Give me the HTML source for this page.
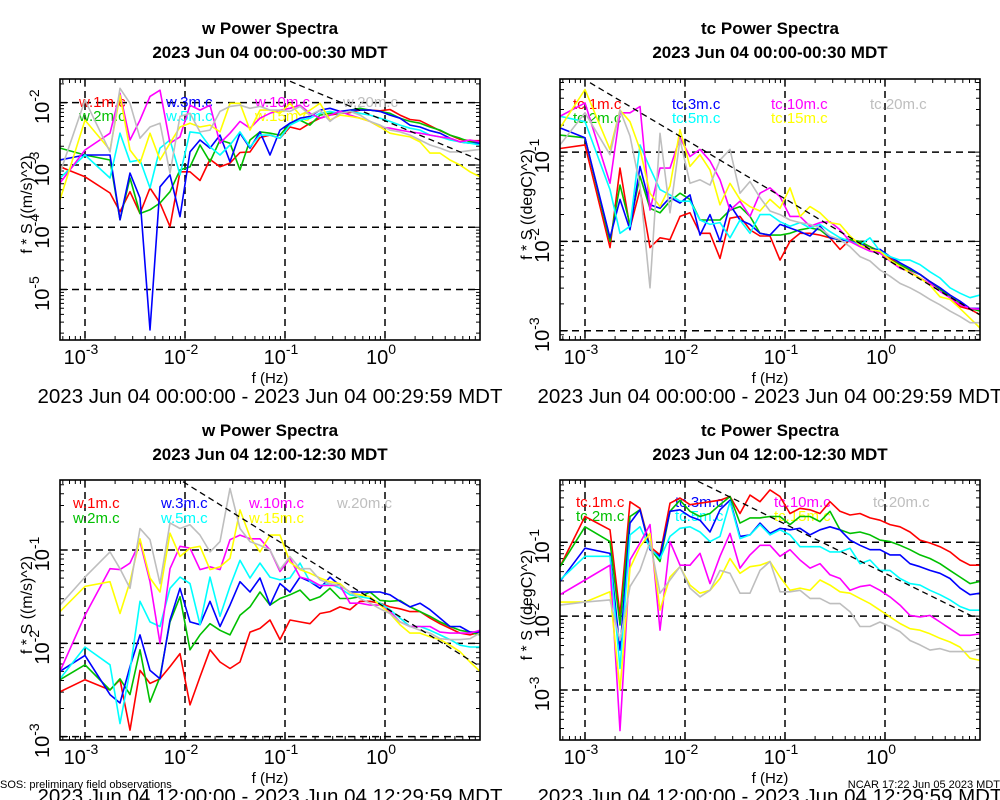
<!DOCTYPE html>
<html><head><meta charset="utf-8"><style>
html,body{margin:0;padding:0;background:#fff;}
svg{display:block;font-family:"Liberation Sans",Arial,sans-serif;}
</style></head>
<body>
<svg id="chart" width="1000" height="800" viewBox="0 0 1000 800" xmlns="http://www.w3.org/2000/svg">
<rect x="0" y="0" width="1000" height="800" fill="#fff"/>
<text x="0" y="788" font-size="11">SOS: preliminary field observations</text>
<text x="1000" y="788" font-size="11" text-anchor="end">NCAR 17:22 Jun 05 2023 MDT</text>
</svg>
<script>
// frequency grid (log10 Hz)
const logFreq = [-3.25,-3.0,-2.75,-2.65,-2.55,-2.45,-2.35,-2.25,-2.15,-2.05,-1.95,-1.85,-1.75,-1.65,-1.55,-1.45,-1.35,-1.25,-1.15,-1.05,-0.95,-0.85,-0.75,-0.65,-0.55,-0.45,-0.35,-0.25,-0.15,-0.05,0.05,0.15,0.25,0.35,0.45,0.55,0.65,0.75,0.85,0.95];
const seriesNames = ['1m','2m','3m','5m','10m','15m','20m'];
// Panel 1: w, 00:00-00:30 (log10 of f*S)
const p1_1m = [-3.03,-3.19,-3.45,-3.75,-3.43,-3.78,-3.37,-3.61,-3.99,-3.11,-3.11,-3.25,-2.91,-3.03,-2.97,-2.80,-2.79,-2.56,-2.52,-2.57,-2.39,-2.43,-2.33,-2.25,-2.20,-2.17,-2.16,-2.12,-2.12,-2.13,-2.11,-2.20,-2.27,-2.29,-2.37,-2.45,-2.52,-2.59,-2.61,-2.61];
const p1_2m = [-2.73,-2.84,-2.92,-3.88,-3.21,-3.78,-3.72,-3.61,-3.43,-3.08,-3.03,-2.68,-2.95,-2.60,-2.65,-3.08,-2.60,-2.47,-2.49,-2.52,-2.33,-2.28,-2.36,-2.20,-2.17,-2.17,-2.12,-2.09,-2.12,-2.14,-2.17,-2.25,-2.30,-2.33,-2.39,-2.44,-2.52,-2.57,-2.63,-2.64];
const p1_3m = [-2.92,-2.84,-2.84,-3.88,-3.13,-3.53,-5.65,-3.35,-3.16,-3.83,-2.79,-2.60,-2.73,-2.52,-2.95,-2.49,-2.73,-2.47,-2.84,-2.44,-2.33,-2.25,-2.22,-2.12,-2.09,-2.14,-2.12,-2.12,-2.12,-2.14,-2.20,-2.25,-2.36,-2.39,-2.45,-2.49,-2.57,-2.63,-2.65,-2.65];
const p1_5m = [-3.21,-2.84,-3.21,-2.49,-2.95,-2.92,-3.37,-2.73,-2.60,-3.16,-2.47,-2.49,-2.71,-2.84,-2.68,-2.47,-2.71,-2.52,-2.52,-2.57,-2.36,-2.28,-2.25,-2.17,-2.14,-2.17,-2.14,-2.17,-2.20,-2.25,-2.30,-2.36,-2.41,-2.44,-2.52,-2.55,-2.60,-2.63,-2.65,-2.68];
const p1_10m = [-3.29,-2.76,-2.49,-1.85,-2.60,-2.28,-1.90,-1.80,-2.65,-2.55,-2.04,-2.12,-2.04,-2.65,-2.49,-2.30,-2.41,-2.25,-2.17,-2.12,-2.09,-2.04,-2.17,-2.25,-2.20,-2.14,-2.20,-2.25,-2.30,-2.39,-2.41,-2.44,-2.47,-2.49,-2.52,-2.55,-2.57,-2.63,-2.60,-2.63];
const p1_15m = [-3.56,-2.28,-2.76,-1.88,-2.76,-2.97,-2.49,-2.92,-2.65,-2.39,-2.33,-2.39,-2.36,-2.47,-2.01,-2.01,-2.44,-2.12,-2.12,-2.17,-2.01,-2.20,-2.12,-2.01,-2.28,-2.20,-2.22,-2.25,-2.30,-2.39,-2.49,-2.52,-2.55,-2.63,-2.81,-2.81,-2.92,-3.00,-3.11,-3.19];
const p1_20m = [-3.13,-1.96,-2.79,-1.77,-2.01,-2.57,-2.39,-2.33,-3.13,-2.22,-2.17,-2.47,-2.44,-2.14,-2.06,-2.04,-2.09,-2.06,-2.12,-2.12,-2.14,-2.06,-2.20,-2.12,-2.30,-2.17,-2.14,-2.20,-2.30,-2.36,-2.44,-2.47,-2.52,-2.60,-2.68,-2.73,-2.79,-2.79,-2.77,-2.75];
// Panel 2: tc, 00:00-00:30
const p2_1m = [-0.96,-0.92,-2.07,-1.18,-1.85,-1.42,-2.07,-1.96,-1.98,-1.72,-1.68,-1.91,-1.91,-2.19,-1.74,-1.72,-1.87,-1.94,-1.94,-2.21,-2.00,-1.91,-1.91,-1.93,-1.96,-2.09,-1.98,-2.02,-2.06,-2.13,-2.19,-2.26,-2.32,-2.37,-2.45,-2.52,-2.62,-2.73,-2.76,-2.82];
const p2_2m = [-0.81,-0.84,-2.00,-1.37,-1.81,-1.27,-1.63,-1.68,-1.55,-1.46,-1.53,-1.76,-1.76,-1.76,-1.65,-1.61,-1.72,-1.91,-1.93,-1.93,-1.91,-1.87,-1.85,-1.87,-1.96,-1.98,-1.98,-2.00,-2.06,-2.11,-2.21,-2.26,-2.32,-2.37,-2.45,-2.54,-2.62,-2.69,-2.75,-2.78];
const p2_3m = [-0.73,-0.84,-1.96,-1.53,-1.87,-1.16,-1.59,-1.63,-1.51,-1.57,-1.48,-1.93,-1.70,-2.00,-1.59,-1.76,-1.81,-1.91,-1.93,-1.81,-1.85,-1.89,-1.94,-1.83,-1.96,-1.98,-2.00,-2.02,-2.09,-2.09,-2.17,-2.24,-2.30,-2.37,-2.45,-2.52,-2.60,-2.67,-2.75,-2.75];
const p2_5m = [-0.60,-0.66,-1.42,-1.91,-1.83,-0.92,-1.18,-1.42,-1.48,-1.55,-1.55,-1.76,-1.81,-1.79,-1.96,-1.76,-1.91,-1.70,-1.70,-1.78,-1.83,-1.79,-1.85,-1.81,-1.89,-1.96,-2.00,-2.04,-1.96,-2.11,-2.17,-2.21,-2.21,-2.26,-2.34,-2.41,-2.52,-2.58,-2.63,-2.60];
const p2_10m = [-0.60,-0.45,-1.35,-0.56,-0.56,-0.49,-1.65,-1.18,-1.18,-0.84,-1.05,-0.97,-1.10,-1.31,-1.65,-1.55,-1.72,-1.46,-1.40,-1.50,-1.72,-1.72,-1.83,-1.79,-1.78,-1.87,-2.00,-2.06,-2.11,-2.13,-2.22,-2.30,-2.34,-2.41,-2.47,-2.56,-2.63,-2.71,-2.75,-2.76];
const p2_15m = [-0.73,-0.30,-0.97,-0.53,-0.66,-0.97,-1.46,-1.61,-1.38,-0.75,-1.16,-1.03,-1.20,-1.59,-1.35,-1.53,-1.61,-1.66,-1.53,-1.63,-1.40,-1.72,-1.61,-1.68,-1.79,-1.81,-1.94,-2.04,-2.09,-2.11,-2.21,-2.28,-2.35,-2.41,-2.49,-2.62,-2.65,-2.75,-2.86,-2.97];
const p2_20m = [-0.92,-0.56,-1.03,-0.53,-0.82,-1.38,-2.52,-0.79,-1.68,-0.86,-1.35,-1.31,-1.37,-1.09,-0.97,-1.46,-1.33,-1.51,-1.66,-1.70,-1.76,-1.79,-1.81,-1.85,-1.94,-1.98,-2.06,-2.17,-2.22,-2.32,-2.39,-2.47,-2.52,-2.58,-2.65,-2.71,-2.78,-2.84,-2.91,-2.91];
// Panel 3: w, 12:00-12:30
const p3_1m = [-2.52,-2.39,-2.50,-2.39,-2.93,-2.29,-2.43,-2.38,-2.25,-2.11,-2.66,-2.36,-2.07,-2.20,-2.27,-2.20,-1.88,-1.84,-1.75,-1.96,-1.75,-1.77,-1.79,-1.68,-1.66,-1.61,-1.64,-1.55,-1.55,-1.57,-1.61,-1.63,-1.66,-1.66,-1.73,-1.79,-1.84,-1.89,-1.91,-1.88];
const p3_2m = [-2.39,-2.23,-2.50,-2.38,-2.55,-2.07,-2.63,-2.36,-1.77,-1.50,-2.07,-1.91,-1.79,-1.86,-1.91,-1.70,-1.61,-1.45,-1.59,-1.52,-1.48,-1.43,-1.54,-1.50,-1.41,-1.52,-1.52,-1.50,-1.45,-1.54,-1.55,-1.54,-1.61,-1.66,-1.71,-1.77,-1.82,-1.86,-1.88,-1.91];
const p3_3m = [-2.30,-2.13,-2.55,-2.64,-2.25,-1.91,-2.29,-2.38,-1.75,-1.41,-1.77,-1.80,-1.55,-1.82,-1.59,-1.34,-1.45,-1.30,-1.59,-1.36,-1.45,-1.29,-1.34,-1.41,-1.29,-1.38,-1.45,-1.45,-1.45,-1.45,-1.48,-1.55,-1.61,-1.57,-1.64,-1.73,-1.82,-1.82,-1.88,-1.88];
const p3_5m = [-2.38,-2.04,-2.23,-2.86,-2.29,-1.55,-1.77,-1.82,-1.41,-1.29,-1.36,-1.80,-1.29,-1.71,-1.39,-1.11,-1.30,-1.14,-1.29,-1.32,-1.30,-1.14,-1.34,-1.38,-1.36,-1.41,-1.48,-1.50,-1.52,-1.57,-1.64,-1.73,-1.82,-1.82,-1.86,-1.91,-1.96,-2.02,-2.04,-2.04];
const p3_10m = [-2.30,-1.70,-1.20,-1.21,-1.14,-0.91,-1.34,-2.00,-1.20,-0.96,-0.98,-1.21,-1.18,-1.21,-0.89,-0.84,-0.88,-0.88,-1.00,-1.23,-1.09,-1.29,-1.32,-1.38,-1.38,-1.38,-1.57,-1.57,-1.59,-1.59,-1.66,-1.77,-1.82,-1.82,-1.82,-1.88,-1.89,-1.89,-1.89,-1.86];
const p3_15m = [-1.66,-1.39,-1.34,-1.68,-1.34,-0.88,-1.30,-1.45,-0.82,-1.07,-0.98,-0.96,-1.21,-1.18,-1.09,-0.57,-0.86,-1.02,-0.84,-0.84,-1.13,-1.21,-1.25,-1.30,-1.34,-1.36,-1.46,-1.48,-1.50,-1.59,-1.68,-1.80,-1.89,-1.89,-1.93,-1.96,-2.02,-2.09,-2.20,-2.30];
const p3_20m = [-1.59,-1.29,-1.02,-1.20,-1.41,-0.77,-0.89,-1.36,-0.71,-0.77,-0.73,-0.84,-1.02,-0.91,-0.34,-0.77,-0.91,-0.95,-1.00,-1.21,-1.07,-1.20,-1.20,-1.32,-1.36,-1.38,-1.45,-1.52,-1.57,-1.63,-1.68,-1.77,-1.82,-1.86,-1.89,-1.95,-1.96,-1.96,-1.95,-1.89];
// Panel 4: tc, 12:00-12:30
const p4_1m = [-1.33,-0.65,-0.83,-1.99,-0.45,-0.54,-1.06,-1.17,-0.47,-0.40,-0.49,-0.47,-0.45,-0.43,-0.38,-0.61,-0.36,-0.45,-0.29,-0.38,-0.61,-0.54,-0.56,-0.61,-0.45,-0.58,-0.63,-0.61,-0.67,-0.70,-0.76,-0.79,-0.86,-0.97,-1.01,-1.06,-1.13,-1.24,-1.31,-1.31];
const p4_2m = [-1.33,-0.79,-0.99,-2.12,-0.65,-0.56,-1.08,-1.26,-0.58,-0.43,-0.58,-0.65,-0.61,-0.49,-0.38,-0.74,-0.67,-0.67,-0.65,-0.65,-0.76,-0.65,-0.65,-0.72,-0.58,-0.83,-0.88,-0.86,-0.90,-0.97,-0.99,-1.04,-1.10,-1.17,-1.22,-1.29,-1.38,-1.47,-1.56,-1.53];
const p4_3m = [-1.53,-1.08,-1.15,-2.46,-0.74,-0.56,-1.10,-1.19,-0.58,-0.56,-0.65,-0.70,-0.86,-0.56,-0.43,-0.92,-0.90,-0.74,-0.88,-0.81,-0.83,-0.81,-0.90,-0.83,-0.79,-0.83,-0.97,-1.04,-1.10,-1.10,-1.17,-1.17,-1.29,-1.33,-1.38,-1.42,-1.49,-1.62,-1.71,-1.69];
const p4_5m = [-1.51,-1.19,-1.19,-2.71,-0.90,-0.79,-1.08,-1.22,-0.92,-0.81,-0.79,-0.86,-0.99,-0.92,-0.45,-0.95,-0.90,-0.76,-0.90,-0.83,-0.90,-1.06,-1.06,-1.06,-1.13,-1.13,-1.08,-1.29,-1.24,-1.38,-1.38,-1.49,-1.56,-1.58,-1.65,-1.71,-1.78,-1.87,-1.92,-1.92];
const p4_10m = [-1.71,-1.51,-1.31,-3.55,-1.24,-1.01,-0.76,-2.19,-0.99,-1.31,-1.31,-1.15,-1.56,-1.19,-0.88,-1.35,-1.17,-1.04,-1.04,-1.19,-1.10,-1.24,-1.35,-1.29,-1.44,-1.49,-1.65,-1.60,-1.58,-1.65,-1.74,-1.85,-1.99,-2.01,-1.99,-2.08,-2.17,-2.26,-2.26,-2.24];
const p4_15m = [-1.81,-1.81,-1.67,-3.00,-1.35,-1.06,-0.88,-1.92,-1.47,-1.33,-1.58,-1.69,-1.65,-1.49,-1.22,-1.42,-1.33,-1.31,-1.26,-1.47,-1.65,-1.62,-1.65,-1.51,-1.58,-1.67,-1.69,-1.76,-1.83,-1.92,-2.01,-2.10,-2.17,-2.19,-2.24,-2.30,-2.35,-2.42,-2.57,-2.60];
const p4_20m = [-1.85,-1.81,-1.78,-2.33,-1.60,-1.38,-0.99,-1.69,-1.51,-1.33,-1.62,-1.74,-1.65,-1.38,-1.42,-1.69,-1.69,-1.38,-1.26,-1.67,-1.67,-1.65,-1.76,-1.76,-1.83,-1.83,-1.94,-2.14,-2.14,-2.08,-2.14,-2.21,-2.33,-2.39,-2.46,-2.44,-2.48,-2.48,-2.48,-2.44];
// reference -2/3 slope lines: [logf start, logf end, intercept]
const refLines = [[-0.95,0.95,-2.29],[-2.95,0.95,-2.19],[-2.02,0.95,-1.615],[-1.87,0.95,-1.42]];
const xTicks = [-3,-2,-1,0];

const colors = ['#ff0000','#00c000','#0000ff','#00ffff','#ff00ff','#ffff00','#bebebe'];
const NS = 'http://www.w3.org/2000/svg';
const svg = document.getElementById('chart');
function mk(tag, attrs, parent){ const e=document.createElementNS(NS,tag); for(const k in attrs) e.setAttribute(k,attrs[k]); (parent||svg).appendChild(e); return e; }

const panels = [
 {x0:60,x1:480,y0:79,y1:340,ymin:-5.81,ymax:-1.62,yt:[-2,-3,-4,-5],data:[p1_1m,p1_2m,p1_3m,p1_5m,p1_10m,p1_15m,p1_20m],pre:'w',ylab:'f * S ((m/s)^2)',t1:'w Power Spectra',t2:'2023 Jun 04 00:00-00:30 MDT',range:'2023 Jun 04 00:00:00 - 2023 Jun 04 00:29:59 MDT',lx:[79,166,255,343],ly:[102,116],cx:270,ty:34},
 {x0:560,x1:980,y0:79,y1:340,ymin:-3.104,ymax:-0.182,yt:[-1,-2,-3],data:[p2_1m,p2_2m,p2_3m,p2_5m,p2_10m,p2_15m,p2_20m],pre:'tc',ylab:'f * S ((degC)^2)',t1:'tc Power Spectra',t2:'2023 Jun 04 00:00-00:30 MDT',range:'2023 Jun 04 00:00:00 - 2023 Jun 04 00:29:59 MDT',lx:[573,672,771,870],ly:[104,118],cx:770,ty:34},
 {x0:60,x1:480,y0:480,y1:740,ymin:-3.036,ymax:-0.25,yt:[-1,-2,-3],data:[p3_1m,p3_2m,p3_3m,p3_5m,p3_10m,p3_15m,p3_20m],pre:'w',ylab:'f * S ((m/s)^2)',t1:'w Power Spectra',t2:'2023 Jun 04 12:00-12:30 MDT',range:'2023 Jun 04 12:00:00 - 2023 Jun 04 12:29:59 MDT',lx:[73,161,249,337],ly:[503,518],cx:270,ty:436},
 {x0:560,x1:980,y0:480,y1:740,ymin:-3.678,ymax:-0.156,yt:[-1,-2,-3],data:[p4_1m,p4_2m,p4_3m,p4_5m,p4_10m,p4_15m,p4_20m],pre:'tc',ylab:'f * S ((degC)^2)',t1:'tc Power Spectra',t2:'2023 Jun 04 12:00-12:30 MDT',range:'2023 Jun 04 12:00:00 - 2023 Jun 04 12:29:59 MDT',lx:[576,675,774,873],ly:[502,516],cx:770,ty:436}
];
const XMIN=-3.25, XMAX=0.95;

panels.forEach((p,pi)=>{
  const xs = v => p.x0 + (v-XMIN)/(XMAX-XMIN)*(p.x1-p.x0);
  const ys = v => p.y1 - (v-p.ymin)/(p.ymax-p.ymin)*(p.y1-p.y0);
  const g = mk('g',{});
  
  
  const cid='clip'+pi;
  const cp = mk('clipPath',{id:cid},g); mk('rect',{x:p.x0,y:p.y0,width:p.x1-p.x0,height:p.y1-p.y0},cp);
  const t1 = mk('text',{x:p.cx,y:p.ty,'text-anchor':'middle','font-size':17,'font-weight':'bold'},g); t1.textContent=p.t1;
   
  const t2 = mk('text',{x:p.cx,y:p.ty+24,'text-anchor':'middle','font-size':17,'font-weight':'bold'},g); t2.textContent=p.t2;
   
  xTicks.forEach(t=>{ const l=mk('line',{x1:xs(t),x2:xs(t),y1:p.y0,y2:p.y1,stroke:'#000','stroke-width':1.5,'stroke-dasharray':'7,5'},g);
      });
  p.yt.forEach(t=>{ const l=mk('line',{x1:p.x0,x2:p.x1,y1:ys(t),y2:ys(t),stroke:'#000','stroke-width':1.5,'stroke-dasharray':'7,5'},g);
      });
  let d='';
  for(let dec=-4; dec<=1; dec++){ for(let m=1;m<=9;m++){ const v=dec+Math.log10(m); if(v<XMIN||v>XMAX) continue; const L=m===1?8:4; const x=xs(v); d+=`M${x},${p.y1}v${-L}M${x},${p.y0}v${L}`; } }
  for(let dec=-7; dec<=0; dec++){ for(let m=1;m<=9;m++){ const v=dec+Math.log10(m); if(v<p.ymin||v>p.ymax) continue; const L=m===1?8:4; const y=ys(v); d+=`M${p.x0},${y}h${L}M${p.x1},${y}h${-L}`; } }
  const tk=mk('path',{d:d,stroke:'#000','stroke-width':1,fill:'none'},g);
   
  const order=[[0,0],[0,1],[1,0],[1,1],[2,0],[2,1],[3,0]];
  seriesNames.forEach((n,i)=>{ const [c,r]=order[i]; const lt=mk('text',{x:p.lx[c],y:p.ly[r]+5,'font-size':15,fill:colors[i]},g); lt.textContent=p.pre+'.'+n+'.c';
      });
  const sg = mk('g',{'clip-path':`url(#${cid})`},g);
  p.data.forEach((arr,i)=>{ const pts=arr.map((v,k)=>xs(logFreq[k]).toFixed(1)+','+ys(v).toFixed(1)).join(' ');
    const pl=mk('polyline',{points:pts,fill:'none',stroke:colors[i],'stroke-width':1.6,'stroke-linejoin':'round'},sg);
      });
  const r=refLines[pi];
  const rl=mk('line',{x1:xs(r[0]),y1:ys(r[2]-2/3*r[0]),x2:xs(r[1]),y2:ys(r[2]-2/3*r[1]),stroke:'#000','stroke-width':1.3,'stroke-dasharray':'6,4'},sg);
   
  const fr=mk('rect',{x:p.x0,y:p.y0,width:p.x1-p.x0,height:p.y1-p.y0,fill:'none',stroke:'#000','stroke-width':1.6},g);
   
  xTicks.forEach(t=>{ const tx=mk('text',{x:xs(t)-4,y:p.y1+24,'text-anchor':'middle','font-size':20},g);
     
    const a=mk('tspan',{},tx); a.textContent='10'; const b=mk('tspan',{dy:-10,'font-size':14},tx); b.textContent=String(t); });
  p.yt.forEach(t=>{ const y=ys(t); const tx=mk('text',{x:0,y:0,transform:`translate(${p.x0-11},${y+4}) rotate(-90)`,'text-anchor':'middle','font-size':20},g);
     
    const a=mk('tspan',{},tx); a.textContent='10'; const b=mk('tspan',{dy:-10,'font-size':14},tx); b.textContent=String(t); });
  const xl=mk('text',{x:(p.x0+p.x1)/2,y:p.y1+43,'text-anchor':'middle','font-size':15},g); xl.textContent='f (Hz)';
   
  const yl=mk('text',{x:0,y:0,transform:`translate(${p.x0-28},${(p.y0+p.y1)/2-5}) rotate(-90)`,'text-anchor':'middle','font-size':16},g); yl.textContent=p.ylab;
   
  const rt=mk('text',{x:p.cx,y:p.y1+63,'text-anchor':'middle','font-size':20.5},g); rt.textContent=p.range;
   
});
</script>
</body></html>
